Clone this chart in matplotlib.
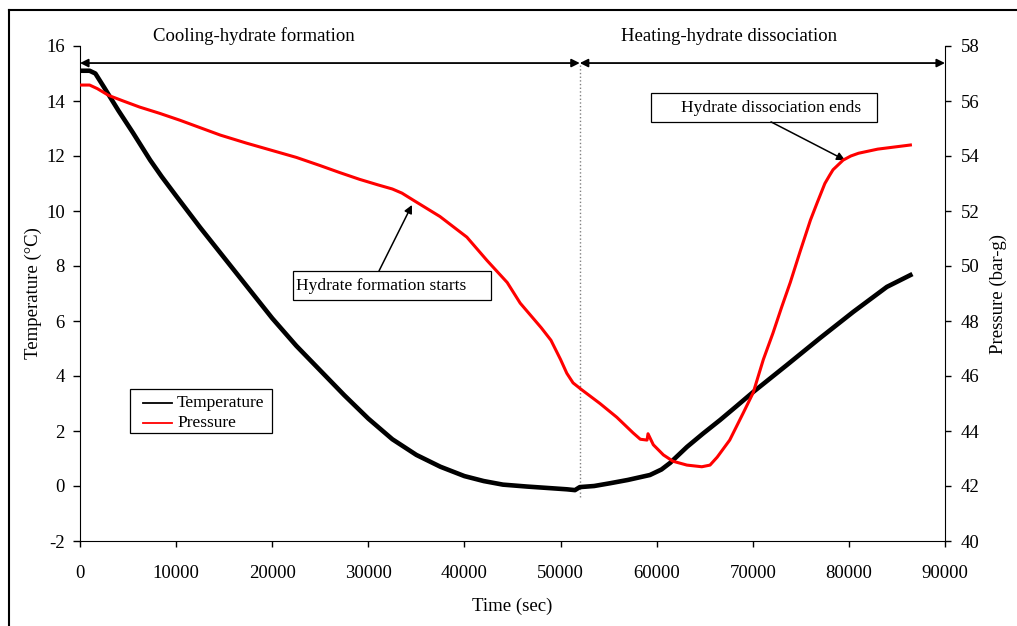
import numpy as np
import matplotlib.pyplot as plt
from matplotlib.lines import Line2D
from matplotlib.patches import Rectangle
import matplotlib
matplotlib.rcParams['font.family'] = ['Liberation Serif', 'DejaVu Serif']
matplotlib.rcParams['font.size'] = 13.5
matplotlib.rcParams['axes.unicode_minus'] = False


# Temperature log (sec, degC)
time_T = [0, 1000, 1600, 2500, 4000, 5500, 7300, 8500, 10000, 12500,
          15000, 17500, 20000, 22500, 25000, 27500, 30000, 32500, 35000,
          37500, 40000, 42000, 44000, 46500, 49000, 50650, 51500, 52000,
          53500, 55150, 57000, 59300, 60500, 61400, 63150, 64800, 66600,
          68300, 70050, 73550, 77000, 80450, 83950, 86400]
temp = [15.1, 15.1, 15.0, 14.5, 13.65, 12.85, 11.85, 11.25, 10.55, 9.4,
        8.3, 7.2, 6.1, 5.1, 4.2, 3.3, 2.45, 1.7, 1.13,
        0.7, 0.36, 0.18, 0.05, -0.02, -0.08, -0.12, -0.15, -0.04,
        0.0, 0.1, 0.22, 0.4, 0.6, 0.84, 1.42, 1.9, 2.4,
        2.9, 3.42, 4.4, 5.38, 6.33, 7.24, 7.67]

# Pressure log (sec, bar-g)
time_P = [0, 1000, 1800, 3000, 4500, 6200, 8300, 10400, 12500, 14600,
          17300, 20000, 22500, 25000, 27000, 29100, 31000, 32500, 33500,
          34650, 37450, 40250, 42350, 43400, 44450, 45800, 46900, 48000,
          49000, 50000, 50650, 51300, 52200, 54100, 55850, 57550, 58300,
          59000, 59100, 59650, 60700, 61700, 63150, 64700, 65550, 66300,
          67600, 69000, 70050, 71100, 72100, 73000, 73900, 74900, 76000,
          76700, 77500, 78000, 78350, 79400, 80200, 81000, 83000, 86400]
pres = [56.58, 56.58, 56.45, 56.2, 56.0, 55.78, 55.55, 55.3, 55.03, 54.76,
        54.47, 54.2, 53.95, 53.65, 53.4, 53.15, 52.95, 52.8, 52.65,
        52.4, 51.8, 51.05, 50.2, 49.8, 49.4, 48.65, 48.2, 47.75,
        47.3, 46.6, 46.1, 45.75, 45.5, 45.0, 44.5, 43.93, 43.7,
        43.67, 43.9, 43.5, 43.13, 42.9, 42.76, 42.7, 42.76, 43.05,
        43.67, 44.65, 45.4, 46.6, 47.56, 48.5, 49.4, 50.5, 51.67,
        52.3, 53.0, 53.3, 53.5, 53.85, 54.0, 54.1, 54.25, 54.4]

t_switch = 52000  # cooling stops, heating starts

fig = plt.figure(figsize=(10.17, 6.26), dpi=100)
ax = fig.add_axes([80/1017, 1 - 541/626, 865/1017, 495/626])
ax2 = ax.twinx()

ax.plot(time_T, temp, color='black', lw=3.3, zorder=3)
ax2.plot(time_P, pres, color='red', lw=2.2, zorder=3)

ax.set_xlim(0, 90000)
ax.set_ylim(-2, 16)
ax2.set_ylim(40, 58)
ax.set_xticks(np.arange(0, 90001, 10000))
ax.set_yticks(np.arange(-2, 17, 2))
ax2.set_yticks(np.arange(40, 59, 2))

for a in (ax, ax2):
    a.spines['top'].set_visible(False)
    a.patch.set_visible(False)
ax.spines['right'].set_visible(False)
ax2.spines['left'].set_visible(False)
ax2.spines['bottom'].set_visible(False)
ax.tick_params(axis='y', direction='out', length=5, width=1, pad=6)
ax.tick_params(axis='x', direction='out', length=4.5, width=1, pad=13)
ax2.tick_params(axis='y', direction='out', length=4.5, width=1, pad=7)

ax.set_xlabel('Time (sec)', labelpad=11)
ax.set_ylabel('Temperature (°C)', labelpad=3)
ax2.set_ylabel('Pressure (bar-g)', labelpad=7)

# phase split marker and span arrows
ax.plot([t_switch, t_switch], [-0.4, 15.3], color='gray', lw=1, ls=':', zorder=2)
y_arr = 15.38
for x0, x1 in [(0, t_switch), (t_switch, 90000)]:
    ax.annotate('', xy=(x1, y_arr), xytext=(x0, y_arr),
                arrowprops=dict(arrowstyle='<|-|>', color='black', lw=1.3,
                                mutation_scale=12, shrinkA=0, shrinkB=0),
                annotation_clip=False)
ax.text(18100, 16.19, 'Cooling-hydrate formation', ha='center', va='baseline')
ax.text(67530, 16.19, 'Heating-hydrate dissociation', ha='center', va='baseline')

# callout boxes
ax.add_patch(Rectangle((22160, 6.76), 42760 - 22160, 7.82 - 6.76, fill=False,
                       edgecolor='black', lw=0.9, zorder=4))
ax.text(22500, 7.29, 'Hydrate formation starts', ha='left', va='center', fontsize=12.5)
ax.annotate('', xy=(34540, 10.22), xytext=(31110, 7.82),
            arrowprops=dict(arrowstyle='-|>', color='black', lw=1.1,
                            mutation_scale=12, shrinkA=0, shrinkB=0))

ax.add_patch(Rectangle((59410, 13.24), 82930 - 59410, 14.29 - 13.24, fill=False,
                       edgecolor='black', lw=0.9, zorder=4))
ax.text(71900, 13.76, 'Hydrate dissociation ends', ha='center', va='center', fontsize=12.5)
ax.annotate('', xy=(79600, 11.85), xytext=(71900, 13.24),
            arrowprops=dict(arrowstyle='-|>', color='black', lw=1.1,
                            mutation_scale=12, shrinkA=0, shrinkB=0))

# legend box, laid out in axes fractions
def fx(px):
    return (px - 80) / 865


def fy(py):
    return (541 - py) / 495


ax.add_patch(Rectangle((fx(130), fy(433)), fx(272) - fx(130), fy(389) - fy(433),
                       transform=ax.transAxes, facecolor='white', edgecolor='black',
                       lw=0.9, zorder=5))
for row, (name, col) in enumerate([('Temperature', 'black'), ('Pressure', 'red')]):
    yy = fy(403 + 20 * row)
    ax.add_line(Line2D([fx(143), fx(172)], [yy, yy], transform=ax.transAxes,
                       color=col, lw=1.3, zorder=6))
    ax.text(fx(177), yy, name, transform=ax.transAxes, ha='left', va='center',
            fontsize=12.5, zorder=6)

# outer frame
fig.add_artist(Line2D([9/1017, 9/1017], [0, 1 - 10/626], color='black', lw=1.5))
fig.add_artist(Line2D([9/1017, 1], [1 - 10/626, 1 - 10/626], color='black', lw=1.5))

fig.savefig('out.png', dpi=100)
